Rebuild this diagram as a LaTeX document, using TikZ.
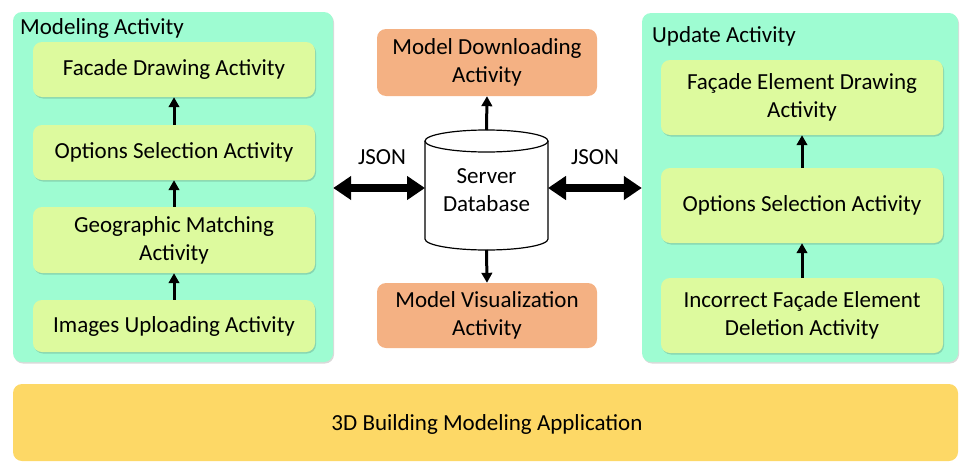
\documentclass[tikz,border=0pt]{standalone}
\usepackage{fontspec}
\setmainfont{Carlito}
\usetikzlibrary{arrows.meta,shadows}

\definecolor{aquaC}{RGB}{158,252,210}
\definecolor{limeC}{RGB}{221,250,158}
\definecolor{peachC}{RGB}{244,177,131}
\definecolor{goldC}{RGB}{253,216,102}

\tikzset{
  softshadow/.style={drop shadow={shadow xshift=1pt, shadow yshift=-1.5pt, opacity=0.15, fill=black}},
  groupbox/.style={fill=aquaC, rounded corners=9pt, softshadow, inner sep=0pt},
  actbox/.style={fill=limeC, rounded corners=9pt, softshadow, align=center, inner sep=2pt},
  srvbox/.style={fill=peachC, rounded corners=9pt, align=center, inner sep=2pt},
  appbox/.style={fill=goldC, rounded corners=9pt, inner sep=0pt},
  flow/.style={line width=3pt, -{Triangle[length=10pt 0 0,width=10.5pt 0 0]}},
  jsonarrow/.style={line width=8.5pt, {Triangle[length=18pt 0 0,width=23pt 0 0]}-{Triangle[length=18pt 0 0,width=23pt 0 0]}},
  grouplabel/.style={anchor=west, inner sep=0pt}
}

\begin{document}
\begin{tikzpicture}[x=1pt,y=-1pt,font=\fontsize{23}{28}\selectfont]
\useasboundingbox (0,0) rectangle (960,463);

% application bar
\node[appbox, minimum width=945, minimum height=77] (app) at (485.5,422.5) {};
\node (apptext) at (487,424) {3D Building Modeling Application};

% group panels
\node[groupbox, minimum width=320, minimum height=350] (modeling) at (173,187) {};
\node[groupbox, minimum width=316, minimum height=349] (update) at (800,187.5) {};
\node[grouplabel] (modlabel) at (20,28) {Modeling Activity};
\node[grouplabel] (updlabel) at (652,36) {Update Activity};

% modeling activities
\node[actbox, minimum width=282, minimum height=55] (m1) at (174,69.5) {Facade Drawing Activity};
\node[actbox, minimum width=282, minimum height=55] (m2) at (174,152.5) {Options Selection Activity};
\node[actbox, minimum width=282, minimum height=66] (m3) at (174,240) {Geographic Matching\\Activity};
\node[actbox, minimum width=282, minimum height=52] (m4) at (174,326) {Images Uploading Activity};
\draw[flow] (m4.north) -- (m3.south);
\draw[flow] (m3.north) -- (m2.south);
\draw[flow] (m2.north) -- (m1.south);

% update activities
\node[actbox, minimum width=282, minimum height=75] (u1) at (802,97.5) {Façade Element Drawing\\Activity};
\node[actbox, minimum width=282, minimum height=75] (u2) at (802,205.5) {Options Selection Activity};
\node[actbox, minimum width=282, minimum height=75] (u3) at (802,315.5) {Incorrect Façade Element\\Deletion Activity};
\draw[flow] (u3.north) -- (u2.south);
\draw[flow] (u2.north) -- (u1.south);

% server side
\node[srvbox, minimum width=220, minimum height=67] (down) at (487,62.5) {Model Downloading\\Activity};
\node[srvbox, minimum width=220, minimum height=65] (vis) at (487,315.5) {Model Visualization\\Activity};

% database cylinder
\fill[white] (425,141) rectangle (548,239);
\fill[white] (486.5,239) ellipse[x radius=61.5, y radius=11];
\draw[line width=1.2pt] (425,141) -- (425,239) arc[start angle=180, end angle=0, x radius=61.5, y radius=11] -- (548,141);
\draw[line width=1.2pt, fill=white] (486.5,141) ellipse[x radius=61.5, y radius=11];
\node[minimum width=123, minimum height=120, inner sep=0pt, align=center] (db) at (486.5,190) {Server\\Database};
\coordinate (dbtop) at (486.5,130);
\coordinate (dbbot) at (486.5,250);
\coordinate (dbleft) at (425,188);
\coordinate (dbright) at (548,188);

\draw[flow] (dbtop) -- (down.south);
\draw[flow] (dbbot) -- (vis.north);

% JSON exchange
\draw[jsonarrow] (modeling.east |- dbleft) -- (dbleft);
\draw[jsonarrow] (dbright) -- (update.west |- dbright);
\node (jsonl) at (382,157) {JSON};
\node (jsonr) at (595,157) {JSON};
\end{tikzpicture}
\end{document}
